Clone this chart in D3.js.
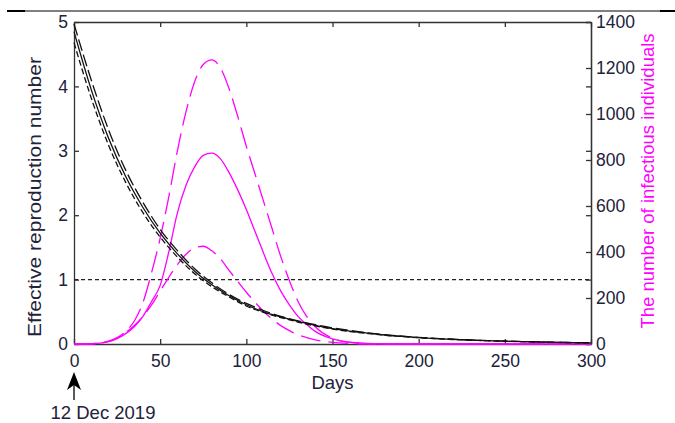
<!DOCTYPE html>
<html>
<head>
<meta charset="utf-8">
<script src="https://cdn.jsdelivr.net/npm/d3@7"></script>
<style>
  body { margin: 0; background: #fff; }
  text { font-family: "Liberation Sans", Arial, sans-serif; }
</style>
</head>
<body>
<svg id="chart" width="675" height="423"></svg>
<script>
// effective reproduction number, every 10 days
const rDays = [0, 10, 20, 30, 40, 50, 60, 70, 80, 90, 100, 110, 120, 130, 140, 150,
  160, 170, 180, 190, 200, 210, 220, 230, 240, 250, 260, 270, 280, 290, 300];
const rSolid = [4.85, 3.95, 3.2, 2.6, 2.12, 1.72, 1.4, 1.13, 0.92, 0.75, 0.61, 0.5, 0.42, 0.35, 0.29, 0.24,
  0.2, 0.17, 0.14, 0.12, 0.1, 0.085, 0.072, 0.061, 0.052, 0.044, 0.037, 0.031, 0.026, 0.022, 0.018];
const rDash = [4.97, 4.1, 3.33, 2.7, 2.2, 1.78, 1.45, 1.17, 0.95, 0.77, 0.63, 0.52, 0.43, 0.36, 0.3, 0.25,
  0.21, 0.175, 0.145, 0.122, 0.102, 0.087, 0.074, 0.062, 0.053, 0.045, 0.038, 0.032, 0.027, 0.022, 0.018];
const rDot = [4.68, 3.82, 3.09, 2.51, 2.04, 1.66, 1.35, 1.09, 0.89, 0.73, 0.59, 0.49, 0.41, 0.34, 0.28, 0.232,
  0.194, 0.164, 0.137, 0.117, 0.097, 0.083, 0.07, 0.06, 0.051, 0.043, 0.036, 0.03, 0.025, 0.021, 0.017];

// number of infectious individuals
const iDays = [0, 10, 20, 30, 35, 40, 45, 50, 55, 60, 65, 70, 75, 80, 85, 90, 95, 100, 105, 110,
  115, 120, 125, 130, 135, 140, 150, 160, 170, 180, 200, 250, 300];
const iLarge = [0, 1, 12, 55, 100, 180, 310, 460, 640, 840, 1010, 1140, 1215, 1235, 1200, 1110, 990, 860, 740, 620,
  500, 380, 275, 185, 120, 75, 25, 7, 2, 0, 0, 0, 0];
const iMid = [0, 1, 10, 45, 75, 120, 185, 255, 400, 570, 690, 770, 820, 830, 805, 745, 670, 585, 490, 395,
  305, 230, 170, 120, 85, 55, 22, 8, 3, 1, 0, 0, 0];
const iSmall = [0, 1, 10, 50, 80, 120, 170, 230, 290, 345, 390, 418, 425, 405, 370, 320, 272, 225, 182, 142,
  108, 80, 58, 40, 28, 18, 7, 2, 0, 0, 0, 0, 0];

const xTicks = [0, 50, 100, 150, 200, 250, 300];
const rTicks = [0, 1, 2, 3, 4, 5];
const iTicks = [0, 200, 400, 600, 800, 1000, 1200, 1400];
const threshold = 1;

const svg = d3.select("#chart");
const plotLeft = 74, plotRight = 591, plotTop = 22, plotBottom = 344;
const axisColor = "#333";
const labelColor = "#22223a";
const magenta = "#ff00ff";

const x = d3.scaleLinear().domain([0, 300]).range([plotLeft, plotRight]);
const yR = d3.scaleLinear().domain([0, 5]).range([plotBottom, plotTop]);
const yI = d3.scaleLinear().domain([0, 1400]).range([plotBottom, plotTop]);

// header rule
svg.append("line").attr("x1", 7).attr("x2", 675).attr("y1", 11).attr("y2", 11)
  .attr("stroke", "#000").attr("stroke-width", 1);
svg.append("line").attr("x1", 7).attr("x2", 25).attr("y1", 11).attr("y2", 11)
  .attr("stroke", "#000").attr("stroke-width", 2);
svg.append("line").attr("x1", 660).attr("x2", 675).attr("y1", 11).attr("y2", 11)
  .attr("stroke", "#000").attr("stroke-width", 2);

const styleAxis = (g) => {
  g.selectAll("path").attr("stroke", axisColor).attr("stroke-width", 1.3);
  g.selectAll("line").attr("stroke", axisColor).attr("stroke-width", 1.3);
  g.selectAll("text").attr("fill", labelColor).style("font-size", "17.5px")
    .style("font-family", '"Liberation Sans", Arial, sans-serif');
};

svg.append("g").attr("transform", `translate(0,${plotBottom})`)
  .call(d3.axisBottom(x).tickValues(xTicks).tickSize(-5).tickSizeOuter(0).tickPadding(11))
  .call(styleAxis);
svg.append("g").attr("transform", `translate(0,${plotTop})`)
  .call(d3.axisTop(x).tickValues(xTicks).tickSize(-5).tickSizeOuter(0).tickFormat(""))
  .call(styleAxis);
svg.append("g").attr("transform", `translate(${plotLeft},0)`)
  .call(d3.axisLeft(yR).tickValues(rTicks).tickSize(-5).tickSizeOuter(0).tickPadding(6).tickFormat(d3.format("d")))
  .call(styleAxis);
svg.append("g").attr("transform", `translate(${plotRight},0)`)
  .call(d3.axisRight(yR).tickValues(rTicks).tickSize(-5).tickSizeOuter(0).tickFormat(""))
  .call(styleAxis);
svg.append("g").attr("transform", `translate(${plotRight},0)`)
  .call(d3.axisRight(yI).tickValues(iTicks).tickSize(-5).tickSizeOuter(0).tickPadding(5).tickFormat(d3.format("d")))
  .call(styleAxis);

// R = 1 threshold
svg.append("line").attr("x1", plotLeft).attr("x2", plotRight)
  .attr("y1", yR(threshold)).attr("y2", yR(threshold))
  .attr("stroke", "#222").attr("stroke-width", 1.2).attr("stroke-dasharray", "4,3");

// infectious curves
const iLine = (vals) => d3.line().x((d, i) => x(iDays[i])).y((d) => yI(d)).curve(d3.curveMonotoneX)(vals);
[
  { vals: iLarge, dash: "22,8" },
  { vals: iMid, dash: null },
  { vals: iSmall, dash: "20,8" },
].forEach((s) => {
  svg.append("path").attr("d", iLine(s.vals)).attr("fill", "none")
    .attr("stroke", magenta).attr("stroke-width", 1.3)
    .attr("stroke-dasharray", s.dash);
});

// effective reproduction number curves
const rLine = (vals) => d3.line().x((d, i) => x(rDays[i])).y((d) => yR(d)).curve(d3.curveMonotoneX)(vals);
[
  { vals: rSolid, dash: null },
  { vals: rDash, dash: "12,4" },
  { vals: rDot, dash: "6,3" },
].forEach((s) => {
  svg.append("path").attr("d", rLine(s.vals)).attr("fill", "none")
    .attr("stroke", "#111").attr("stroke-width", 1.3)
    .attr("stroke-dasharray", s.dash);
});

// axis titles
svg.append("text").attr("x", x(150)).attr("y", 389).attr("text-anchor", "middle")
  .attr("fill", labelColor).style("font-size", "18.5px").text("Days");
svg.append("text").attr("transform", "translate(41,197) rotate(-90)")
  .attr("text-anchor", "middle").attr("fill", labelColor).style("font-size", "18.5px")
  .attr("textLength", 280).attr("lengthAdjust", "spacingAndGlyphs")
  .text("Effective reproduction number");
svg.append("text").attr("transform", "translate(654,181) rotate(-90)")
  .attr("text-anchor", "middle").attr("fill", magenta).style("font-size", "18.5px")
  .text("The number of infectious individuals");

// start date marker
svg.append("line").attr("x1", x(0)).attr("x2", x(0)).attr("y1", 400).attr("y2", 384)
  .attr("stroke", "#000").attr("stroke-width", 1.3);
svg.append("path")
  .attr("d", `M${x(0)},372 L${x(0) + 7},390 L${x(0)},385 L${x(0) - 7},390 Z`)
  .attr("fill", "#000");
svg.append("text").attr("x", 103).attr("y", 419).attr("text-anchor", "middle")
  .attr("fill", labelColor).style("font-size", "18.5px").text("12 Dec 2019");
</script>
</body>
</html>
